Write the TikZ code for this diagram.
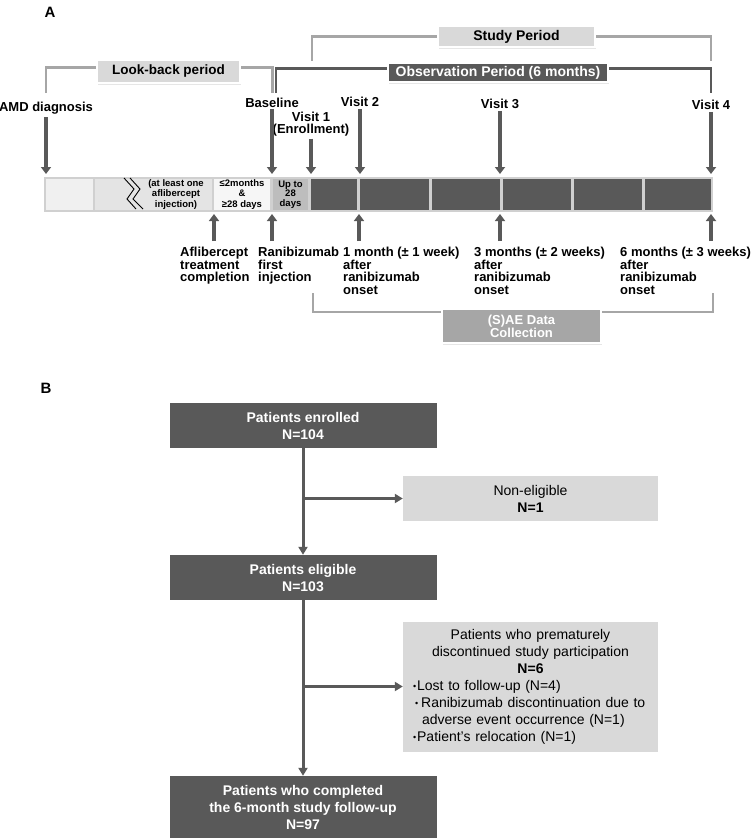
\documentclass[tikz,border=0pt]{standalone}
\usepackage{fontspec}
\setmainfont{Liberation Sans}
\usepackage{tikz}
\usetikzlibrary{arrows.meta, shadows}

\definecolor{dgrey}{HTML}{595959}
\definecolor{lgrey}{HTML}{D9D9D9}
\definecolor{mgrey}{HTML}{A6A6A6}
\definecolor{pale}{HTML}{F0F0F0}
\definecolor{midbar}{HTML}{BDBDBD}
\definecolor{barbg}{HTML}{D0D0D0}

\newcommand{\bul}{{\fontsize{9}{9}\selectfont\raisebox{1pt}{•}}}

\tikzset{
  lbl/.style={font=\fontsize{13}{12.5}\selectfont\bfseries, inner sep=0pt, align=left},
  down/.style={draw=dgrey, line width=3.5pt, -{Triangle[width=10pt,length=7pt]}},
  brk/.style={line width=2.5pt, draw=mgrey},
  tag/.style={draw=white, line width=2pt, inner sep=0pt, font=\fontsize{14}{14}\selectfont\bfseries,
    drop shadow={shadow xshift=1pt, shadow yshift=-1.5pt, opacity=0.2}},
  seg/.style={inner sep=0pt, minimum height=31pt, font=\fontsize{9.5}{10.5}\selectfont\bfseries, align=center},
  flow/.style={inner sep=0pt, minimum height=45pt, font=\fontsize{14}{17}\selectfont, align=center},
  darkbox/.style={flow, fill=dgrey, text=white, font=\fontsize{14}{17}\selectfont\bfseries, minimum width=267pt},
  lightbox/.style={flow, fill=lgrey, minimum width=255pt},
  flowarr/.style={draw=dgrey, line width=3pt, -{Triangle[width=9pt,length=8pt]}},
}

\begin{document}
\begin{tikzpicture}[x=1pt, y=-1pt]
\useasboundingbox (0,0) rectangle (753,838);

% panel A
\node[font=\fontsize{15}{15}\selectfont\bfseries] (A) at (50,12) {A};

% period tags
\node[tag, fill=lgrey, minimum width=143pt, minimum height=23pt, font=\fontsize{13.5}{13.5}\selectfont\bfseries] (lookback) at (168.5,71.5) {Look-back period};
\node[tag, fill=lgrey, minimum width=157pt, minimum height=21pt] (study) at (516.5,36.5) {Study Period};
\node[tag, fill=dgrey, text=white, minimum width=220pt, minimum height=19pt] (obs) at (498,72.5) {Observation Period (6 months)};
\node[tag, fill=mgrey, text=white, minimum width=159pt, minimum height=34pt, align=center, font=\fontsize{13}{13}\selectfont\bfseries] (sae) at (521.5,326) {(S)AE Data\\Collection};

\coordinate (lbL) at (46,93);
\coordinate (lbR) at (272.5,93);
\coordinate (obL) at (276,93);
\coordinate (obR) at (711,93);
\coordinate (stL) at (312,61);
\coordinate (stR) at (711,61);
\coordinate (saL) at (313,293);
\coordinate (saR) at (713,293);

\draw[brk] (lbL) |- ([yshift=4pt]lookback.west);
\draw[brk] ([yshift=4pt]lookback.east) -| (lbR);
\draw[brk, draw=dgrey] (obL) |- ([yshift=4pt]obs.west);
\draw[brk, draw=dgrey] ([yshift=4pt]obs.east) -| (obR);
\draw[brk] (stL) |- (study.west);
\draw[brk] (study.east) -| (stR);
\draw[brk] (saL) |- ([yshift=-4pt]sae.north west);
\draw[brk] ([yshift=-4pt]sae.north east) -| (saR);

% time bar
\fill[barbg] (44,177) rectangle (713,212);
\node[seg, fill=pale, minimum width=47pt] (s1) at (69.5,194.5) {};
\node[seg, fill=pale!95!black, minimum width=117pt] (s2) at (153.5,194.5) {};
\node[seg, fill=pale!60!white, minimum width=56pt] (s3) at (242,194.5) {≤2months\\\&\\≥28 days};
\node[seg, fill=midbar, minimum width=35pt, font=\fontsize{9.5}{9.5}\selectfont\bfseries] (s4) at (290.5,194.5) {Up to\\28\\days};
\node[seg, fill=dgrey, minimum width=46pt] (s5) at (334,194.5) {};
\node[seg, fill=dgrey, minimum width=69pt] (s6) at (394.5,194.5) {};
\node[seg, fill=dgrey, minimum width=68pt] (s7) at (466,194.5) {};
\node[seg, fill=dgrey, minimum width=68pt] (s8) at (537,194.5) {};
\node[seg, fill=dgrey, minimum width=68pt] (s9) at (608,194.5) {};
\node[seg, fill=dgrey, minimum width=66pt] (s10) at (678,194.5) {};
\node[seg] (s2txt) at (176,194.5) {(at least one\\aflibercept\\injection)};
\draw[line width=0.9pt] (124,178) -- (134,189) -- (127,199) -- (136,209);
\draw[line width=0.9pt] (130,178) -- (140,189) -- (133,199) -- (143,209);

\coordinate (bartop) at (0,174);
\coordinate (barbot) at (0,214);

% visits
\node[lbl] (amd) at (46,108) {AMD diagnosis};
\node[lbl] (base) at (272,103) {Baseline};
\node[lbl, align=center] (visit1) at (311,124) {Visit 1\\(Enrollment)};
\node[lbl] (visit2) at (360,102) {Visit 2};
\node[lbl] (visit3) at (500,104) {Visit 3};
\node[lbl] (visit4) at (711,105) {Visit 4};

\draw[down, shorten <=3pt] (amd.south) -- (amd.south |- bartop);
\draw[down, shorten <=1pt] (base.south) -- (base.south |- bartop);
\draw[down, shorten <=2pt] (visit1.south) -- (visit1.south |- bartop);
\draw[down, shorten <=2pt] (visit2.south) -- (visit2.south |- bartop);
\draw[down, shorten <=2pt] (visit3.south) -- (visit3.south |- bartop);
\draw[down, shorten <=2pt] (visit4.south) -- (visit4.south |- bartop);

% events below the bar
\node[lbl, anchor=north west] (aflib) at (180,247) {Aflibercept\\treatment\\completion};
\node[lbl, anchor=north west] (ranib) at (258,247) {Ranibizumab\\first\\injection};
\node[lbl, anchor=north west] (month1) at (343,247) {1 month (± 1 week)\\after\\ranibizumab\\onset};
\node[lbl, anchor=north west] (month3) at (474,247) {3 months (± 2 weeks)\\after\\ranibizumab\\onset};
\node[lbl, anchor=north west] (month6) at (620,247) {6 months (± 3 weeks)\\after\\ranibizumab\\onset};

\coordinate (u1) at (214,241);
\coordinate (u2) at (272,241);
\coordinate (u3) at (359,241);
\coordinate (u4) at (500,241);
\coordinate (u5) at (711,241);
\draw[down] (u1) -- (u1 |- barbot);
\draw[down] (u2) -- (u2 |- barbot);
\draw[down] (u3) -- (u3 |- barbot);
\draw[down] (u4) -- (u4 |- barbot);
\draw[down] (u5) -- (u5 |- barbot);

% panel B
\node[font=\fontsize{15}{15}\selectfont\bfseries] (B) at (46,388) {B};

\node[darkbox] (enrol) at (303,425.5) {Patients enrolled\\N=104};
\node[lightbox] (nonelig) at (530.5,498.5) {Non-eligible\\\textbf{N=1}};
\node[darkbox] (elig) at (303,577.5) {Patients eligible\\N=103};
\node[lightbox, minimum height=130pt, text width=240pt] (prem) at (530.5,686.5)
  {Patients who prematurely\\discontinued study participation\\\textbf{N=6}\\
   \makebox[240pt][l]{\hspace{2.5pt}\bul\kern1pt Lost to follow-up (N=4)}\\
   \makebox[240pt][l]{\hspace{4.5pt}\bul\kern3pt Ranibizumab discontinuation due to}\\
   \makebox[240pt][l]{\hspace{11.5pt}adverse event occurrence (N=1)}\\
   \makebox[240pt][l]{\hspace{2.5pt}\bul\kern1pt Patient’s relocation (N=1)}};
\node[darkbox, minimum height=62pt] (done) at (303,807) {Patients who completed\\the 6-month study follow-up\\N=97};

\draw[flowarr] (enrol) -- (elig);
\draw[flowarr] (enrol.south |- nonelig.west) -- (nonelig.west);
\draw[flowarr] (elig) -- (done);
\draw[flowarr] (elig.south |- prem.west) -- (prem.west);
\end{tikzpicture}
\end{document}
